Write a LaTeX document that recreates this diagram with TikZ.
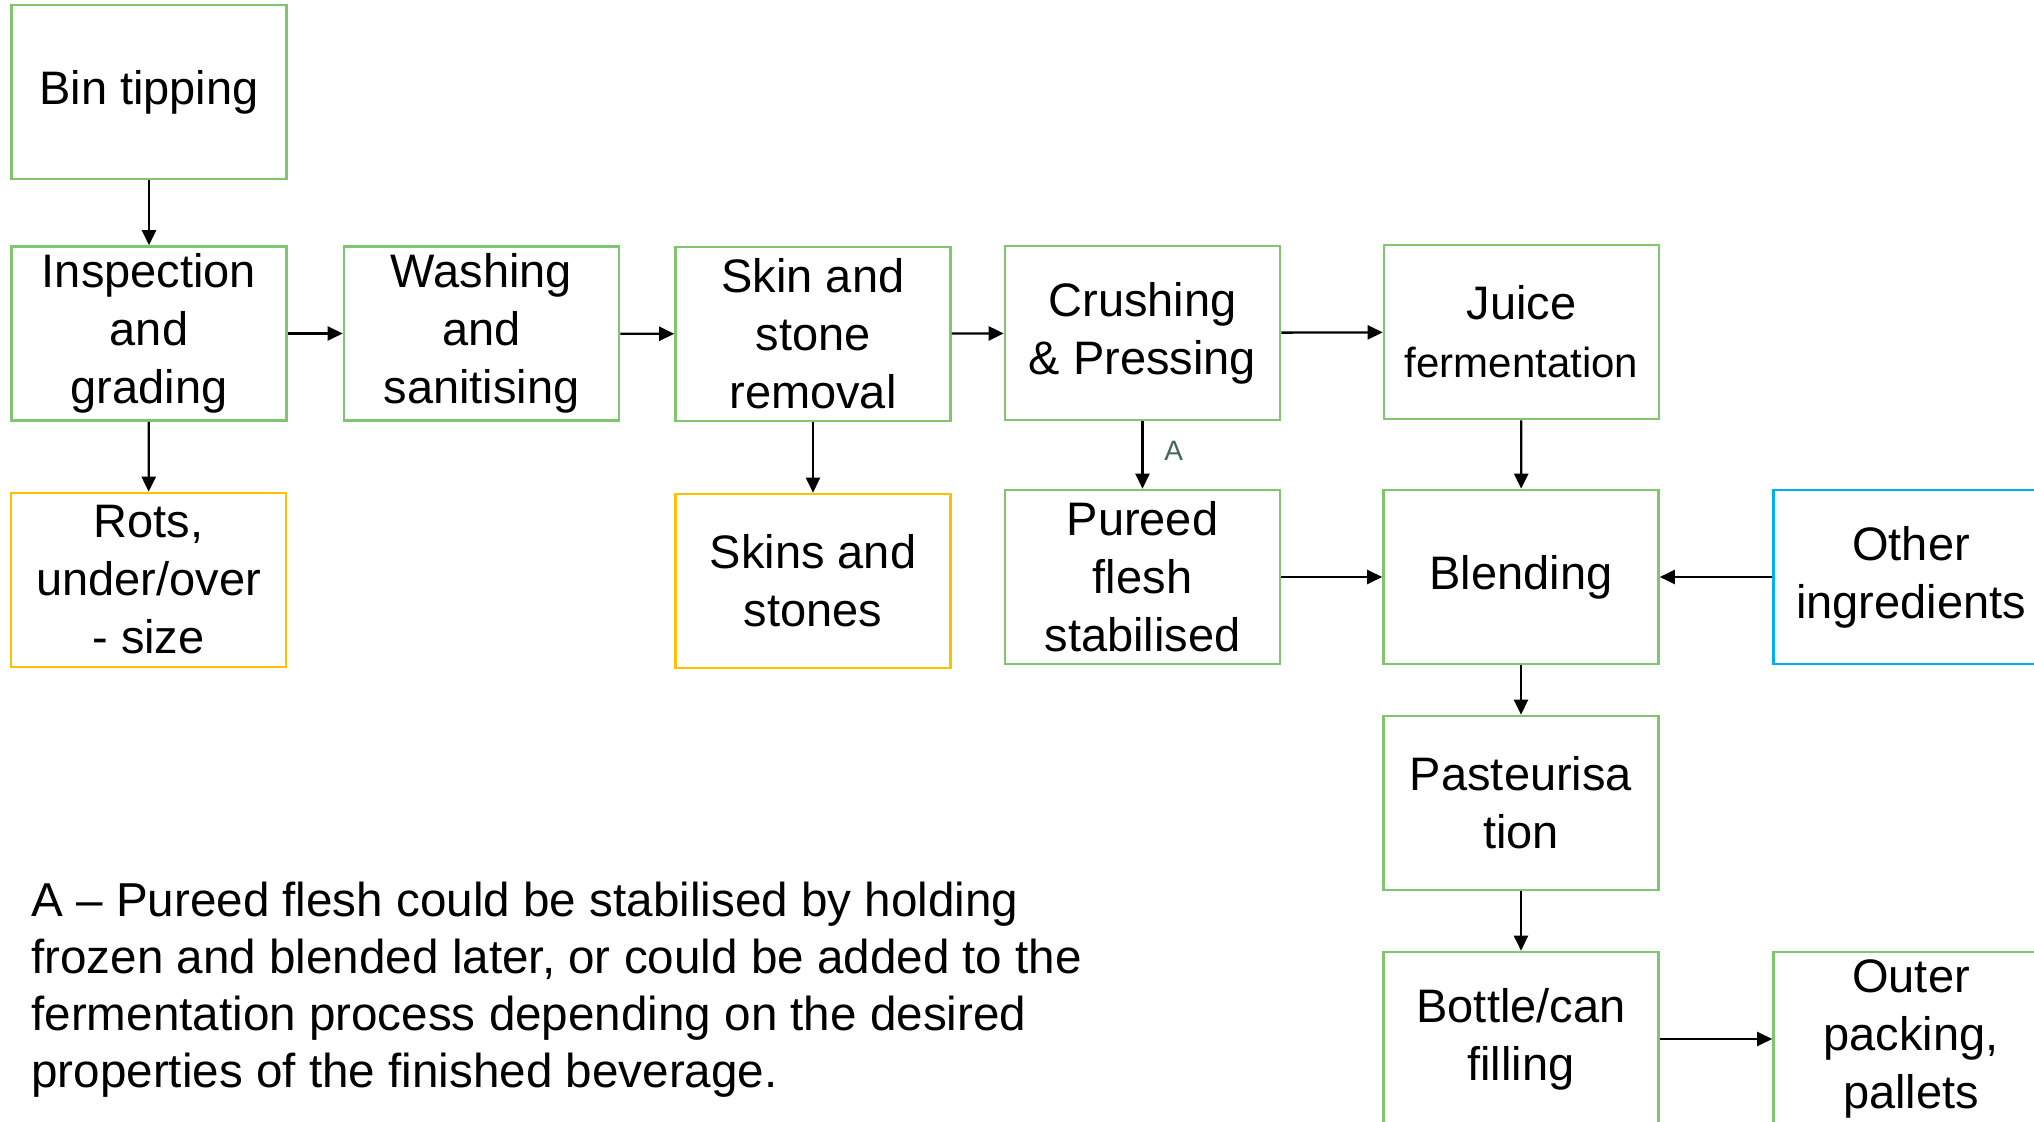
\documentclass[tikz,border=0pt]{standalone}
\usepackage{fontspec}
\setmainfont{Liberation Sans}
\usetikzlibrary{arrows.meta}
\definecolor{stepgreen}{RGB}{128,198,110}
\definecolor{wasteyellow}{RGB}{255,192,0}
\definecolor{inputblue}{RGB}{0,176,240}
\definecolor{notegrey}{RGB}{68,100,94}

\begin{document}
\begin{tikzpicture}[x=0.5pt,y=-0.5pt,
  box/.style={draw=stepgreen, line width=1.3pt, minimum width=137.5pt,
    minimum height=87pt, inner sep=0pt, align=center,
    font=\fontsize{23.5}{29}\selectfont},
  waste/.style={box, draw=wasteyellow},
  input/.style={box, draw=inputblue},
  flow/.style={-{Triangle[length=7.5pt,width=7pt]}, line width=1.15pt}
]
\useasboundingbox[fill=white] (0,0) rectangle (2034,1122);

% process steps
\node[box] (bin)    at (149,92)    {Bin tipping};
\node[box] (insp)   at (149,333.5) {Inspection\\and\\grading};
\node[box] (wash)   at (481.5,333.5) {Washing\\and\\sanitising};
\node[box] (skin)   at (813,334)   {Skin and\\stone\\removal};
\node[box] (crush)  at (1142.5,333) {Crushing\\\& Pressing};
\node[box] (juice)  at (1521.5,332) {Juice\\{\fontsize{21}{26}\selectfont fermentation}};
\node[box] (puree)  at (1142.5,577) {Pureed\\flesh\\stabilised};
\node[box] (blend)  at (1521,577)  {Blending};
\node[box] (past)   at (1521,803)  {Pasteurisa\\tion};
\node[box] (bottle) at (1521,1039) {Bottle/can\\filling};
\node[box] (outer)  at (1911,1039) {Outer\\packing,\\pallets};

% by-products and inputs
\node[waste] (rots)  at (148.5,580) {Rots,\\under/over\\- size};
\node[waste] (skins) at (813,581)   {Skins and\\stones};
\node[input] (other) at (1911,577)  {Other\\ingredients};

% flow connectors
\draw[flow] (bin) -- (insp);
\draw[flow] (insp) -- (wash);
\draw[flow] (wash) -- (skin);
\draw[flow] (skin) -- (crush);
\draw[flow] (crush) -- (juice);
\draw[flow] (insp) -- (rots);
\draw[flow] (skin) -- (skins);
\draw[flow] (crush) -- node[right=7pt, yshift=2pt, text=notegrey, font=\fontsize{14}{16}\selectfont] (lblA) {A} (puree);
\draw[flow] (juice) -- (blend);
\draw[flow] (puree) -- (blend);
\draw[flow] (other) -- (blend);
\draw[flow] (blend) -- (past);
\draw[flow] (past) -- (bottle);
\draw[flow] (bottle) -- (outer);

% footnote
\node[anchor=base west, align=left, inner sep=0pt,
  font=\fontsize{23.8}{28.5}\selectfont] (note) at (31,1087)
  {A – Pureed flesh could be stabilised by holding\\
   frozen and blended later, or could be added to the\\
   fermentation process depending on the desired\\
   properties of the finished beverage.};
\end{tikzpicture}
\end{document}
